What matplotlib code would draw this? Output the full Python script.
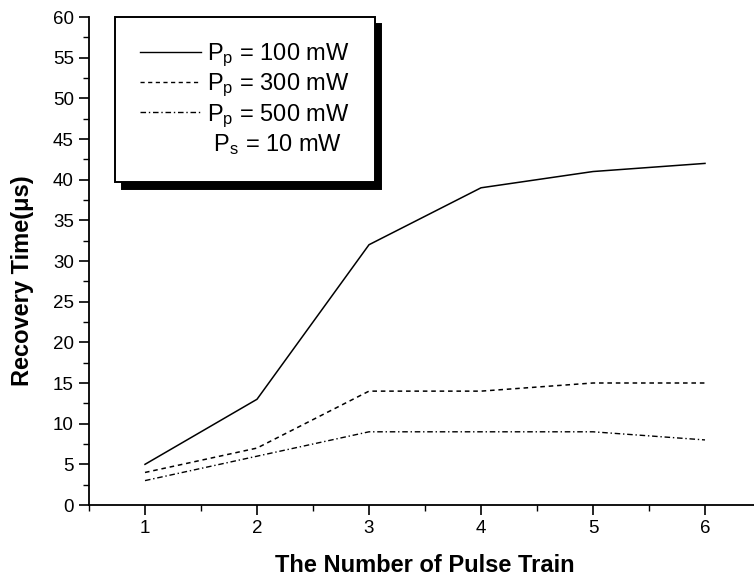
import matplotlib
matplotlib.use("Agg")
import matplotlib.pyplot as plt
from matplotlib.lines import Line2D
from matplotlib.ticker import MultipleLocator

plt.rcParams['font.family'] = ['Liberation Sans', 'DejaVu Sans']
plt.rcParams['mathtext.fontset'] = 'custom'
plt.rcParams['mathtext.rm'] = 'Liberation Sans'
plt.rcParams['mathtext.it'] = 'Liberation Sans'

pulse_train = [1, 2, 3, 4, 5, 6]
p100 = [5, 13, 32, 39, 41, 42]
p300 = [4, 7, 14, 14, 15, 15]
p500 = [3, 6, 9, 9, 9, 8]
labels = [r'P$_\mathrm{p}$ = 100 mW', r'P$_\mathrm{p}$ = 300 mW',
          r'P$_\mathrm{p}$ = 500 mW', r' P$_\mathrm{s}$ = 10 mW']

fig = plt.figure(figsize=(7.54, 5.80), dpi=100)
ax = fig.add_axes([89/754, 75/580, 672/754, 488/580])

l1, = ax.plot(pulse_train, p100, color='black', lw=1.1, ls='-')
l2, = ax.plot(pulse_train, p300, color='black', lw=1.1, ls=(0, (3, 2.5)))
l3, = ax.plot(pulse_train, p500, color='black', lw=1.0, ls=(0, (4, 2, 1, 2)))

ax.set_xlim(0.5, 6.5)
ax.set_ylim(0, 60)
ax.xaxis.set_major_locator(MultipleLocator(1))
ax.xaxis.set_minor_locator(MultipleLocator(0.5))
ax.yaxis.set_major_locator(MultipleLocator(5))
ax.yaxis.set_minor_locator(MultipleLocator(2.5))
ax.spines['top'].set_visible(False)
ax.spines['right'].set_visible(False)
for s in ('left', 'bottom'):
    ax.spines[s].set_linewidth(1.3)
ax.tick_params(which='major', direction='out', length=7, width=1.2, labelsize=13.5, pad=4)
ax.tick_params(which='minor', direction='out', length=4, width=1.0)
ax.set_xticks([1, 2, 3, 4, 5, 6])

ax.set_xlabel('The Number of Pulse Train', fontsize=17, fontweight='bold', labelpad=12)
ax.set_ylabel('Recovery Time(\u03bcs)', fontsize=17, fontweight='bold', labelpad=10)
ax.yaxis.set_label_coords(-0.082, 0.459)

blank = Line2D([], [], color='none')
leg = ax.legend([l1, l2, l3, blank], labels, loc='upper left',
                bbox_to_anchor=(0.0387, 1.0), borderaxespad=0, fontsize=17,
                frameon=True, fancybox=False, edgecolor='black',
                handlelength=2.6, handletextpad=0.25, labelspacing=0.12,
                borderpad=1.05,
                shadow={'color': 'black', 'alpha': 1, 'ox': 5, 'oy': -5})
leg.get_frame().set_linewidth(1.4)
for h in leg.legend_handles:
    h.set_linewidth(1.0)

fig.savefig('out.png', dpi=100)
